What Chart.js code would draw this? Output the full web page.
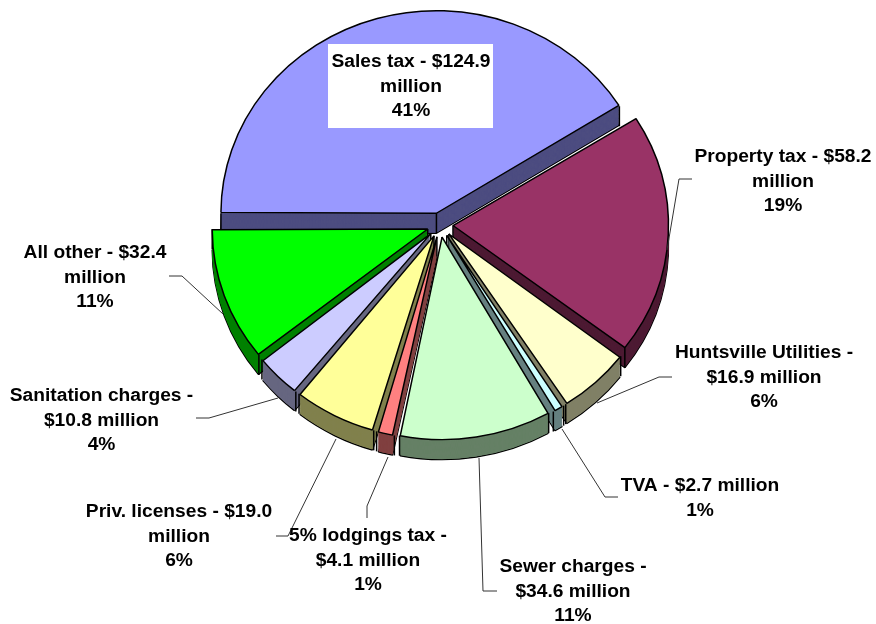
<!DOCTYPE html>
<html>
<head>
<meta charset="utf-8">
<style>html,body{margin:0;padding:0;background:#fff}#box{position:relative;width:876px;height:624px}</style>
<script src="https://cdn.jsdelivr.net/npm/chart.js@4/dist/chart.umd.js"></script>
</head>
<body>
<div id="box"><canvas id="c" width="876" height="624"></canvas></div>
<script>
const categories = ["Sales tax","Property tax","Huntsville Utilities","TVA","Sewer charges","5% lodgings tax","Priv. licenses","Sanitation charges","All other"];
const valuesMillions = [124.9,58.2,16.9,2.7,34.6,4.1,19.0,10.8,32.4];
const topColors = ["#9999FF","#993366","#FFFFCC","#CCFFFF","#CCFFCC","#FF8080","#FFFF99","#CCCCFF","#00FF00"];
const wallColors = ["#4D4D80","#4D1A33","#808066","#668080","#668066","#804040","#80804D","#666680","#008000"];
const labelLines = [
  ["Sales tax - $124.9","million","41%"],
  ["Property tax - $58.2","million","19%"],
  ["Huntsville Utilities -","$16.9 million","6%"],
  ["TVA - $2.7 million","1%"],
  ["Sewer charges -","$34.6 million","11%"],
  ["5% lodgings tax -","$4.1 million","1%"],
  ["Priv. licenses - $19.0","million","6%"],
  ["Sanitation charges -","$10.8 million","4%"],
  ["All other - $32.4","million","11%"]
];
const labelAnchors = [[411,62],[783,157],[764,353],[700,486],[573,567],[368,536],[179,512],[101.5,396],[95,253]];
const leaderPaths = [
  null,
  [[692,179],[679,179],[667,250]],
  [[672,377],[659,377],[597,403]],
  [[618,497],[605,497],[562,429]],
  [[497,591],[483,591],[479,458]],
  [[367,518],[367,506],[388,457]],
  [[276,536],[288,536],[336,439]],
  [[196,418],[209,418],[278,398]],
  [[169,276],[182,276],[223,314]]
];
const PIE = {cx:440, cy:225, k:0.94, depth:20, radius:215.5, explode:52};
const LINE_H = 24.6;

const pie3d = {
  id:'pie3d',
  afterDatasetsUpdate(chart){
    // ArcElement widens each arc by offset*(1-sin(sweep)); cancel that so all slices share one radius
    const off = PIE.explode/4;
    chart.getDatasetMeta(0).data.forEach(a=>{
      const fix = 1-Math.sin(Math.min(Math.PI,a.circumference));
      a.outerRadius = PIE.radius - off*fix;
    });
  },
  beforeDatasetDraw(chart,args){
    const ctx = chart.ctx, arcs = args.meta.data, k = PIE.k;
    const c0 = arcs[0];
    ctx.save();
    ctx.translate(PIE.cx,PIE.cy); ctx.scale(1,k); ctx.translate(-c0.x,-c0.y);
    const order = arcs.map((a,i)=>i).sort((p,q)=>{
      const m=a=>Math.sin((a.startAngle+a.endAngle)/2);
      return m(arcs[p])-m(arcs[q]);
    });
    const off = PIE.explode/4, d = PIE.depth/k, R = PIE.radius;
    order.forEach(i=>{
      const a = arcs[i], orig = a.options;
      const mid=(a.startAngle+a.endAngle)/2, ox=Math.cos(mid)*off, oy=Math.sin(mid)*off;
      a.options = Object.assign(Object.create(orig),{backgroundColor:wallColors[i],borderColor:'#000',borderWidth:1.5});
      ctx.save(); ctx.translate(0,d); a.draw(ctx); ctx.restore();
      a.options = Object.assign(Object.create(orig),{backgroundColor:wallColors[i],borderWidth:0});
      for(let s=d-0.5;s>0;s-=0.5){ ctx.save(); ctx.translate(0,s); a.draw(ctx); ctx.restore(); }
      a.options = orig;
      const pts=[[a.x+ox,a.y+oy],
        [a.x+ox+R*Math.cos(a.startAngle),a.y+oy+R*Math.sin(a.startAngle)],
        [a.x+ox+R*Math.cos(a.endAngle),a.y+oy+R*Math.sin(a.endAngle)]];
      ctx.strokeStyle='#000'; ctx.lineWidth=1.5;
      pts.forEach(p=>{ctx.beginPath();ctx.moveTo(p[0],p[1]);ctx.lineTo(p[0],p[1]+d);ctx.stroke();});
    });
  },
  afterDatasetDraw(chart){ chart.ctx.restore(); },
  afterDraw(chart){
    const ctx = chart.ctx;
    ctx.save();
    ctx.strokeStyle='#333'; ctx.lineWidth=1;
    leaderPaths.forEach(path=>{
      if(!path) return;
      ctx.beginPath();
      path.forEach((p,i)=> i? ctx.lineTo(p[0],p[1]) : ctx.moveTo(p[0],p[1]));
      ctx.stroke();
    });
    ctx.fillStyle='#fff'; ctx.fillRect(328,44,165,84);
    ctx.fillStyle='#000';
    ctx.font='bold 19.2px "Liberation Sans", Arial, sans-serif';
    ctx.textAlign='center'; ctx.textBaseline='middle';
    labelLines.forEach((lines,i)=>{
      lines.forEach((t,j)=>ctx.fillText(t,labelAnchors[i][0],labelAnchors[i][1]+j*LINE_H));
    });
    ctx.restore();
  }
};

new Chart(document.getElementById('c'),{
  type:'pie',
  data:{labels:categories,datasets:[{
    data:valuesMillions,
    backgroundColor:topColors,
    borderColor:'#000',
    borderWidth:1.5,
    offset:PIE.explode,
    radius:PIE.radius,
    clip:false
  }]},
  options:{
    responsive:false,animation:false,rotation:270,
    events:[],
    layout:{padding:0},
    plugins:{legend:{display:false},tooltip:{enabled:false},title:{display:false}}
  },
  plugins:[pie3d]
});
</script>
</body>
</html>
